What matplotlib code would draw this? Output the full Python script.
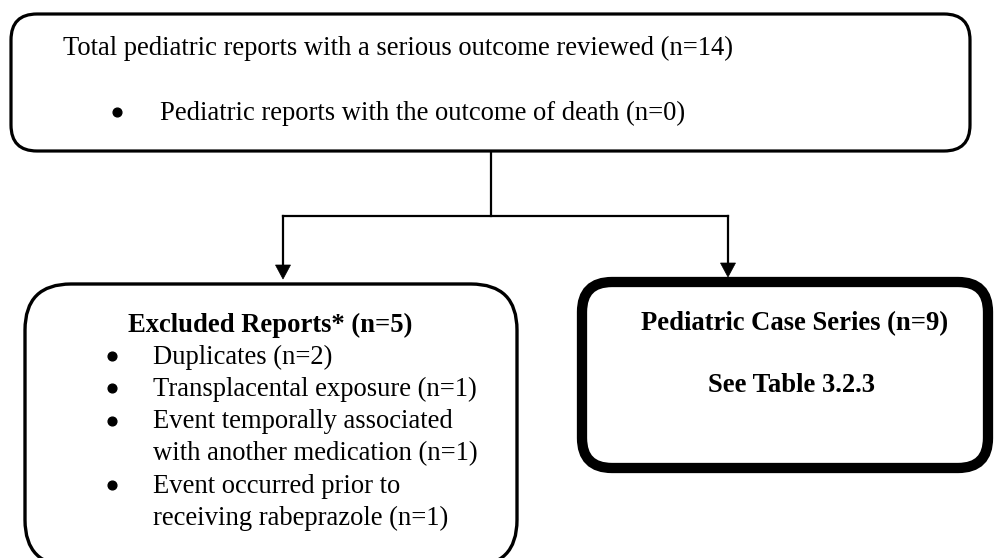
import matplotlib
matplotlib.use("Agg")
import matplotlib.pyplot as plt
from matplotlib.patches import FancyBboxPatch, Polygon

# ---- content ----
top_title = "Total pediatric reports with a serious outcome reviewed (n=14)"
top_bullets = ["Pediatric reports with the outcome of death (n=0)"]
excluded_title = "Excluded Reports* (n=5)"
excluded_items = [
    ["Duplicates (n=2)"],
    ["Transplacental exposure (n=1)"],
    ["Event temporally associated", "with another medication (n=1)"],
    ["Event occurred prior to", "receiving rabeprazole (n=1)"],
]
case_title = "Pediatric Case Series (n=9)"
case_note = "See Table 3.2.3"

W, H = 996, 558
FONT = "Liberation Serif"
FS = 19.2

fig = plt.figure(figsize=(W / 100, H / 100), dpi=100)
ax = fig.add_axes([0, 0, 1, 1])
ax.set_xlim(0, W)
ax.set_ylim(H, 0)
ax.axis("off")


def rbox(x0, y0, x1, y1, r, lw):
    p = FancyBboxPatch((x0, y0), x1 - x0, y1 - y0,
                       boxstyle=f"round,pad=0,rounding_size={r}",
                       fc="white", ec="black", lw=lw, zorder=2)
    ax.add_patch(p)


def bullet(x, y):
    ax.plot([x], [y], marker="o", ms=6.3, color="black", zorder=4)


# top box
rbox(11, 14, 970, 151, 26, 2.3)
ax.text(63, 48, top_title, fontfamily=FONT, fontsize=FS, va="center", ha="left", zorder=4)
for i, b in enumerate(top_bullets):
    y = 113 + i * 32
    bullet(117, y - 1)
    ax.text(160, y, b, fontfamily=FONT, fontsize=FS, va="center", ha="left", zorder=4)

# connectors
lw_c = 1.6
ax.plot([491, 491], [151, 216], color="black", lw=lw_c, zorder=1)
ax.plot([283, 728], [216, 216], color="black", lw=lw_c, zorder=1, solid_capstyle="projecting")
for xa, yb in [(283, 279), (728, 277)]:
    ax.plot([xa, xa], [216, yb - 12], color="black", lw=lw_c, zorder=1)
    ax.add_patch(Polygon([[xa - 7.5, yb - 14], [xa + 7.5, yb - 14], [xa, yb]],
                         closed=True, fc="black", ec="black", lw=0.5, zorder=3))

# excluded box
rbox(25, 284, 517, 566, 46, 2.4)
ax.text(128, 325, excluded_title, fontfamily=FONT, fontsize=FS, fontweight="bold",
        va="center", ha="left", zorder=4)
y = 357
for item in excluded_items:
    bullet(112, y - 1)
    for line in item:
        ax.text(153, y, line, fontfamily=FONT, fontsize=FS, va="center", ha="left", zorder=4)
        y += 32.3

# case series box
rbox(582, 282, 988, 468, 30, 7.4)
ax.text(795, 324, case_title, fontfamily=FONT, fontsize=FS, fontweight="bold",
        va="center", ha="center", zorder=4)
ax.text(791, 386, case_note, fontfamily=FONT, fontsize=FS, fontweight="bold",
        va="center", ha="center", zorder=4)

fig.savefig("out.png", dpi=100, facecolor="white")
